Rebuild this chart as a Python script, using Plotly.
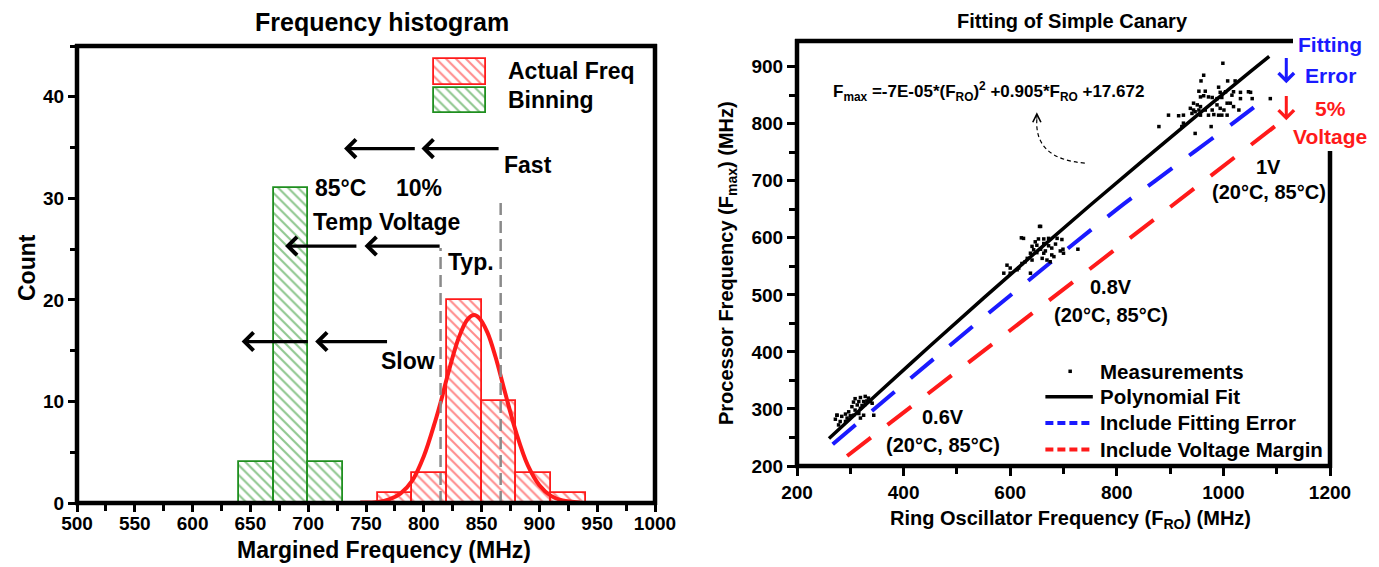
import plotly.graph_objects as go

# ---------------- Left panel: frequency histogram ----------------
binning_centers = [655, 685, 715]
binning_counts = [4, 31, 4]
actual_centers = [775, 805, 835, 865, 895, 925]
actual_counts = [1, 3, 20, 10, 3, 1]
bin_width = 30

gauss_x = [745, 760, 770, 780, 790, 800, 810, 815, 820, 830, 838, 843.5, 848, 855,
           862, 870, 880, 890, 900, 910, 920, 935]
gauss_y = [0.05, 0.1, 0.35, 0.95, 2.2, 4.6, 8.1, 10.1, 12.3, 16.2, 18.1, 18.5, 18.2,
           16.8, 14.4, 11.0, 6.9, 3.7, 1.75, 0.7, 0.24, 0.04]

typ_x = [814.5, 814.5]
typ_y = [0, 25.1]
fastline_x = [866.5, 866.5]
fastline_y = [0, 29.7]

# arrows: (head_x, tail_x, y)
hist_arrows = [(798, 866, 34.9), (731, 793.5, 34.9),
               (748.7, 815, 25.3), (680, 743, 25.3),
               (706, 769.5, 15.9), (642.4, 701, 15.9)]
hist_labels = [("85°C", 728, 31.0), ("10%", 796, 31.0), ("Temp Voltage", 768, 27.7),
               ("Typ.", 841, 23.7), ("Slow", 786, 14.0), ("Fast", 890, 33.3)]
hist_xticks = list(range(500, 1001, 50))
hist_yticks = [0, 10, 20, 30, 40]

# ---------------- Right panel: fitting of simple canary ----------------
meas_x = [999, 963, 958, 1008, 1022, 954, 966, 991, 994, 1004, 1019, 1032, 1047, 1051,
          957, 963, 972, 979, 988, 997, 1016, 1032, 1054, 944, 951, 957, 988, 1007, 1013,
          1019, 1029, 938, 944, 954, 966, 979, 994, 1001, 897, 916, 925, 957, 972, 982,
          991, 997, 1007, 925, 879, 977, 922, 947, 941, 947, 1088,
          657, 625, 653, 663, 672, 688, 697, 647, 641, 650, 663, 672, 685, 644, 657, 666,
          678, 694, 638, 650, 663, 678, 682, 660, 669, 675, 632, 641, 622, 628, 700, 594,
          600, 616, 588, 600, 638, 613, 727, 699, 621, 655,
          309, 319, 328, 334, 306, 316, 325, 331, 313, 322, 328, 303, 319, 309, 297, 291,
          300, 306, 284, 294, 275, 272, 316, 325, 281, 291, 278, 338, 319, 341, 344, 275]
meas_y = [906, 885, 875, 875, 875, 857, 857, 864, 855, 856, 856, 855, 856, 855,
          847, 849, 847, 846, 844, 846, 850, 844, 844, 836, 833, 830, 833, 836, 836,
          830, 824, 827, 824, 824, 824, 824, 827, 824, 815, 814, 815, 815, 815, 816,
          815, 815, 815, 801, 795, 795, 795, 783, 818, 821, 844,
          620, 599, 598, 598, 599, 599, 597, 593, 585, 587, 590, 586, 589, 579, 580, 577,
          582, 577, 573, 574, 573, 570, 567, 564, 561, 558, 564, 561, 555, 558, 573, 552,
          547, 547, 538, 538, 538, 544, 580, 580, 600, 620,
          318, 320, 322, 319, 312, 313, 313, 314, 307, 306, 308, 304, 301, 298, 295, 291,
          288, 289, 287, 284, 289, 282, 292, 289, 278, 278, 272, 313, 284, 310, 289, 289]

poly_x = [260, 350, 450, 550, 650, 750, 850, 950, 1050, 1086]
poly_y = [248.2, 325.8, 410.7, 494.2, 576.3, 657.0, 736.3, 814.2, 890.7, 918.0]

fiterr_x = [267, 416, 600, 803, 872, 947, 1025, 1075]
fiterr_y = [238, 356, 499, 652, 700, 752, 806, 841.5]

vmargin_x = [294, 700, 1104]
vmargin_y = [217.5, 510, 800.7]

legend_names = ["Measurements", "Polynomial Fit", "Include Fitting Error", "Include Voltage Margin"]
legend_rows_y = [366, 321.5, 275.5, 228.8]
legend_sample_x = [666, 755]

fit_xticks = [200, 400, 600, 800, 1000, 1200]
fit_yticks = [200, 300, 400, 500, 600, 700, 800, 900]

FONT = "Liberation Sans, Arial, Helvetica, sans-serif"
RED = "#ff1a1a"
GREEN = "#1f8f1f"
BLUE = "#1a1aff"
W, H = 1379, 567

# panel boxes in page pixels (left, right, top, bottom)
L_BOX = (77, 655, 46, 503)
R_BOX = (797, 1330, 41, 466)


def px(xp):
    return xp / W


def py(yp):
    return 1 - yp / H


def bold(size, color="black"):
    return dict(family=FONT, size=size, color=color, weight="bold")


fig = go.Figure()

hatch = dict(shape="\\", bgcolor="white", size=7, solidity=0.3)

# histogram bars
fig.add_trace(go.Bar(x=binning_centers, y=binning_counts, width=bin_width,
                     xaxis="x", yaxis="y",
                     marker=dict(color="white", line=dict(color=GREEN, width=1.8),
                                 pattern=dict(fgcolor=GREEN, **hatch)),
                     showlegend=False))
fig.add_trace(go.Bar(x=actual_centers, y=actual_counts, width=bin_width,
                     xaxis="x", yaxis="y",
                     marker=dict(color="white", line=dict(color=RED, width=1.8),
                                 pattern=dict(fgcolor=RED, **hatch)),
                     showlegend=False))
# legend boxes (left)
fig.add_trace(go.Bar(x=[831.5], y=[2.5], base=[41.2], width=[44.5], xaxis="x", yaxis="y",
                     marker=dict(color="white", line=dict(color=RED, width=1.8),
                                 pattern=dict(fgcolor=RED, **hatch)),
                     showlegend=False))
fig.add_trace(go.Bar(x=[831.5], y=[2.5], base=[38.4], width=[44.5], xaxis="x", yaxis="y",
                     marker=dict(color="white", line=dict(color=GREEN, width=1.8),
                                 pattern=dict(fgcolor=GREEN, **hatch)),
                     showlegend=False))
# gaussian fit
fig.add_trace(go.Scatter(x=gauss_x, y=gauss_y, mode="lines", line=dict(color=RED, width=4, shape="spline"),
                         xaxis="x", yaxis="y", showlegend=False))
# grey dashed verticals
for lx, ly in ((typ_x, typ_y), (fastline_x, fastline_y)):
    fig.add_trace(go.Scatter(x=lx, y=ly, mode="lines",
                             line=dict(color="#8a8a8a", width=2.5, dash="12px,6px"),
                             xaxis="x", yaxis="y", showlegend=False))

# ---- right panel traces ----
fig.add_trace(go.Scatter(x=vmargin_x, y=vmargin_y, mode="lines",
                         line=dict(color=RED, width=4, dash="30px,21px"),
                         xaxis="x2", yaxis="y2", showlegend=False))
fig.add_trace(go.Scatter(x=fiterr_x, y=fiterr_y, mode="lines",
                         line=dict(color=BLUE, width=4, dash="30px,21px", shape="spline"),
                         xaxis="x2", yaxis="y2", showlegend=False))
fig.add_trace(go.Scatter(x=poly_x, y=poly_y, mode="lines",
                         line=dict(color="black", width=3.5, shape="spline"),
                         xaxis="x2", yaxis="y2", showlegend=False))
fig.add_trace(go.Scatter(x=meas_x, y=meas_y, mode="markers",
                         marker=dict(symbol="square", size=3.5, color="black", line=dict(width=0)),
                         xaxis="x2", yaxis="y2", showlegend=False))
# right legend samples
fig.add_trace(go.Scatter(x=[sum(legend_sample_x) / 2 + 2], y=[legend_rows_y[0]], mode="markers",
                         marker=dict(symbol="square", size=3.5, color="black", line=dict(width=0)),
                         xaxis="x2", yaxis="y2", showlegend=False))
fig.add_trace(go.Scatter(x=legend_sample_x, y=[legend_rows_y[1]] * 2, mode="lines",
                         line=dict(color="black", width=3.5), xaxis="x2", yaxis="y2", showlegend=False))
fig.add_trace(go.Scatter(x=legend_sample_x, y=[legend_rows_y[2]] * 2, mode="lines",
                         line=dict(color=BLUE, width=4, dash="8px,4px"), xaxis="x2", yaxis="y2",
                         showlegend=False))
fig.add_trace(go.Scatter(x=legend_sample_x, y=[legend_rows_y[3]] * 2, mode="lines",
                         line=dict(color=RED, width=4, dash="8px,4px"), xaxis="x2", yaxis="y2",
                         showlegend=False))

ann = []


def paper_text(text, xp, yp, size, color="black", angle=0):
    ann.append(dict(text=text, x=px(xp), y=py(yp), xref="paper", yref="paper",
                    xanchor="center", yanchor="middle", textangle=angle,
                    showarrow=False, font=bold(size, color)))


# titles / axis titles
paper_text("Frequency histogram", 382, 22, 25)
paper_text("Fitting of Simple Canary", 1072, 21, 20)
paper_text("Count", 27, 268, 23, angle=-90)
paper_text("Margined Frequency (MHz)", 384, 550, 23)
paper_text("Ring Oscillator Frequency (F<sub>RO</sub>) (MHz)", 1070, 519, 20)
paper_text("Processor Frequency (F<sub>max</sub>) (MHz)", 727, 263, 20, angle=-90)

# left annotations
for t, xx, yy in hist_labels:
    ann.append(dict(text=t, x=xx, y=yy, xref="x", yref="y", xanchor="center", yanchor="middle",
                    showarrow=False, font=bold(23)))
ann.append(dict(text="Actual Freq", x=871, y=42.5, xref="x", yref="y", xanchor="left", yanchor="middle",
                showarrow=False, font=bold(23)))
ann.append(dict(text="Binning", x=871, y=39.7, xref="x", yref="y", xanchor="left", yanchor="middle",
                showarrow=False, font=bold(23)))
for hx, tx, yy in hist_arrows:
    ann.append(dict(text="", x=hx, y=yy, ax=tx, ay=yy, xref="x", yref="y", axref="x", ayref="y",
                    showarrow=True, arrowhead=4, arrowsize=1.1, arrowwidth=3.2, arrowcolor="black"))

# right annotations
ann.append(dict(text="F<sub>max</sub> =-7E-05*(F<sub>RO</sub>)<sup>2</sup> +0.905*F<sub>RO</sub> +17.672",
                x=264, y=857, xref="x2", yref="y2", xanchor="left", yanchor="middle", showarrow=False,
                font=bold(17)))
for t, xx, yy in (("1V", 1084, 724), ("(20°C, 85°C)", 1086, 680),
                  ("0.8V", 789, 513), ("(20°C, 85°C)", 789, 464),
                  ("0.6V", 473, 286), ("(20°C, 85°C)", 473, 236)):
    ann.append(dict(text=t, x=xx, y=yy, xref="x2", yref="y2", xanchor="center", yanchor="middle",
                    showarrow=False, font=bold(20)))
for t, yy in zip(legend_names, legend_rows_y):
    ann.append(dict(text=t, x=764, y=yy, xref="x2", yref="y2", xanchor="left", yanchor="middle",
                    showarrow=False, font=bold(20.5)))
# side labels
for t, yp, col in (("Fitting", 45, BLUE), ("Error", 75, BLUE), ("5%", 108, RED), ("Voltage", 137, RED)):
    paper_text(t, 1330, yp, 21, col)
ann.append(dict(text="", x=1118, y=871, ax=1118, ay=918, xref="x2", yref="y2", axref="x2", ayref="y2",
                showarrow=True, arrowhead=4, arrowsize=1.0, arrowwidth=3, arrowcolor=BLUE))
ann.append(dict(text="", x=1118, y=806, ax=1118, ay=851, xref="x2", yref="y2", axref="x2", ayref="y2",
                showarrow=True, arrowhead=4, arrowsize=1.0, arrowwidth=3, arrowcolor=RED))
# curved dashed pointer head
ann.append(dict(text="", x=650, y=820, ax=650, ay=806, xref="x2", yref="y2", axref="x2", ayref="y2",
                showarrow=True, arrowhead=5, arrowsize=1.6, arrowwidth=1, arrowcolor="black"))

FRAME = dict(color="black", width=4.5)


def pline(x0, y0, x1, y1):
    return dict(type="line", xref="paper", yref="paper", x0=px(x0), y0=py(y0), x1=px(x1), y1=py(y1),
                line=FRAME, layer="above")


lx0, lx1, ly0, ly1 = L_BOX
rx0, rx1, ry0, ry1 = R_BOX
shapes = [
    dict(type="path", xref="x2", yref="y2", path="M 740,731 Q 645,738 650,808",
         line=dict(color="black", width=1.2, dash="4px,3px")),
    # left panel frame
    pline(lx0, ly0 - 2, lx0, ly1 + 2), pline(lx1, ly0 - 2, lx1, ly1 + 2),
    pline(lx0 - 2, ly0, lx1 + 2, ly0), pline(lx0 - 2, ly1, lx1 + 2, ly1),
    # right panel frame (open at top-right where the side labels sit)
    pline(rx0, ry0 - 2, rx0, ry1 + 2), pline(rx0 - 2, ry1, rx1 + 2, ry1),
    pline(rx0 - 2, ry0, 1293, ry0), pline(rx1, 151, rx1, ry1 + 2),
]

axis_common = dict(showline=False, ticks="outside", tickcolor="black", tickwidth=3,
                   showgrid=False, zeroline=False, automargin=False, tickfont=bold(19))
minor_common = dict(tickwidth=3, tickcolor="black", ticks="outside")

fig.update_layout(
    width=W, height=H, margin=dict(l=0, r=0, t=0, b=0, pad=0, autoexpand=False),
    paper_bgcolor="white", plot_bgcolor="white", barmode="overlay", bargap=0, showlegend=False,
    font=dict(family=FONT, color="black"),
    xaxis=dict(domain=[px(lx0), px(lx1)], range=[500, 1000], anchor="y", tickvals=hist_xticks,
               ticklen=8, ticklabelstandoff=-5,
               minor=dict(dtick=25, tick0=500, ticklen=7, **minor_common), **axis_common),
    yaxis=dict(domain=[py(ly1), py(ly0)], range=[0, 45], anchor="x", tickvals=hist_yticks,
               ticklen=8, minor=dict(dtick=5, tick0=0, ticklen=6, **minor_common), **axis_common),
    xaxis2=dict(domain=[px(rx0), px(rx1)], range=[200, 1200], anchor="y2", tickvals=fit_xticks,
                ticklen=9, minor=dict(dtick=100, tick0=200, ticklen=7, **minor_common), **axis_common),
    yaxis2=dict(domain=[py(ry1), py(ry0)], range=[200, 945], anchor="x2", tickvals=fit_yticks,
                ticklen=9, minor=dict(dtick=50, tick0=200, ticklen=7, **minor_common), **axis_common),
    annotations=ann, shapes=shapes,
)

fig.write_html("out.html", post_script="document.body.style.margin='0';",
               config={"displayModeBar": False})
